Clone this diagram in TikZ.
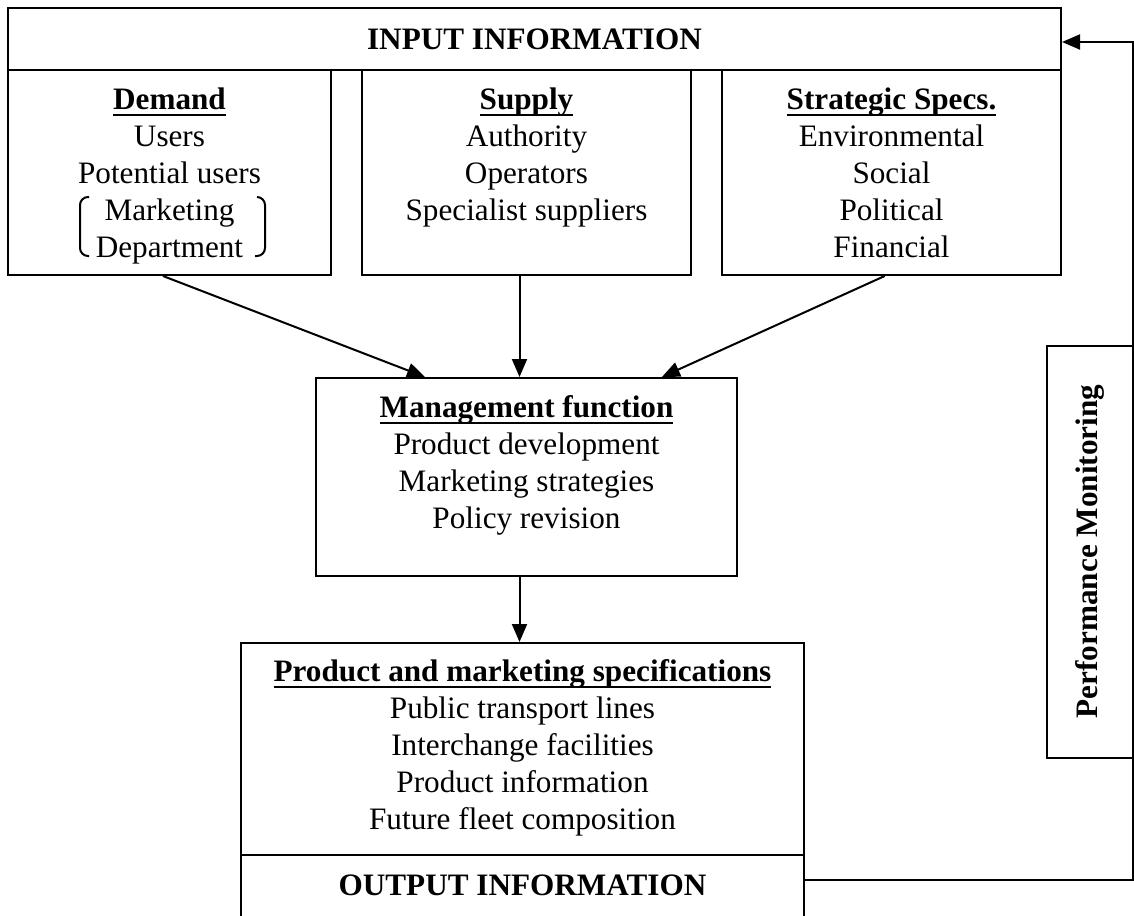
\documentclass[tikz,border=0pt]{standalone}
\usepackage{fontspec}
\setmainfont{Liberation Serif}
\usetikzlibrary{arrows.meta,calc}

\tikzset{
  frame/.style={draw, line width=1pt, rectangle, inner sep=0pt},
  txt/.style={align=center, inner sep=0pt, anchor=north,
    font=\fontsize{15.6pt}{18.5pt}\selectfont},
  head/.style={font=\fontsize{15.6pt}{18.5pt}\selectfont\bfseries, inner sep=0pt},
  arr/.style={line width=1pt, -{Triangle[length=9pt,width=7.5pt]}},
  wire/.style={line width=1pt},
}
% bold heading with a heavy underline
\newcommand{\ttl}[1]{\textbf{\setbox0\hbox{#1}\leavevmode\rlap{\raisebox{-3.4pt}{\rule{\wd0}{1.1pt}}}\box0}}

\begin{document}
\begin{tikzpicture}[x=0.5pt,y=-0.5pt]
  \clip (0,0) rectangle (1134,915);

  % input band and its three columns
  \node[frame, minimum width=526.5pt, minimum height=31pt] (input) at (534.5,39) {};
  \node[head] at (input.center) {INPUT INFORMATION};
  \node[frame, minimum width=161.5pt, minimum height=102.5pt] (demand) at (169.5,172.5) {};
  \node[frame, minimum width=164.5pt, minimum height=102.5pt] (supply) at (526.5,172.5) {};
  \node[frame, minimum width=169.5pt, minimum height=102.5pt] (strat) at (891.5,172.5) {};

  \node[txt] (demandtxt) at ([yshift=-9pt]demand.north)
    {\ttl{Demand}\\Users\\Potential users\\Marketing\\Department};
  \node[txt] (supplytxt) at ([yshift=-9pt]supply.north)
    {\ttl{Supply}\\Authority\\Operators\\Specialist suppliers};
  \node[txt] (strattxt) at ([yshift=-9pt]strat.north)
    {\ttl{Strategic Specs.}\\Environmental\\Social\\Political\\Financial};

  % square brackets around the marketing department
  \draw[wire, rounded corners=4pt] (89,197) -- (80,197) -- (80,256) -- (89,256);
  \draw[wire, rounded corners=4pt] (257,197) -- (265,197) -- (265,256) -- (255,256);

  % management function
  \node[frame, minimum width=210.5pt, minimum height=99pt] (mgmt) at (526.5,477) {};
  \node[txt] (mgmttxt) at ([yshift=-9pt]mgmt.north)
    {\ttl{Management function}\\Product development\\Marketing strategies\\Policy revision};

  % product and marketing specifications with the output band
  \node[frame, minimum width=281.5pt, minimum height=106pt] (spec) at (522.5,749) {};
  \node[txt] (spectxt) at ([yshift=-8.5pt]spec.north)
    {\ttl{Product and marketing specifications}\\Public transport lines\\Interchange facilities\\Product information\\Future fleet composition};
  \node[frame, minimum width=281.5pt, minimum height=40pt] (output) at (522.5,895) {};
  \node[head] at (522.5,885) {OUTPUT INFORMATION};

  % performance monitoring
  \node[frame, minimum width=43pt, minimum height=206pt] (perf) at (1090,551.5) {};
  \node[head, rotate=90] at (perf.center) {Performance Monitoring};

  % flows into and out of the management function
  \draw[arr] ($(demand.south west)!0.48!(demand.south east)$) -- ($(mgmt.north west)!0.26!(mgmt.north east)$);
  \draw[arr] ([xshift=-3.5pt]supply.south) -- ([xshift=-3.5pt]supply.south |- mgmt.north);
  \draw[arr] ($(strat.south west)!0.48!(strat.south east)$) -- ($(mgmt.north west)!0.82!(mgmt.north east)$);
  \draw[arr] ([xshift=-3.5pt]mgmt.south) -- ([xshift=-3.5pt]mgmt.south |- spec.north);

  % feedback loop from output back to input
  \coordinate (outR) at (804,880);
  \coordinate (fbB) at (1133,880);
  \coordinate (fbT) at (1133,42);
  \draw[arr] (outR) -- (fbB) -- (fbT) -- (input.east |- fbT);
\end{tikzpicture}
\end{document}
